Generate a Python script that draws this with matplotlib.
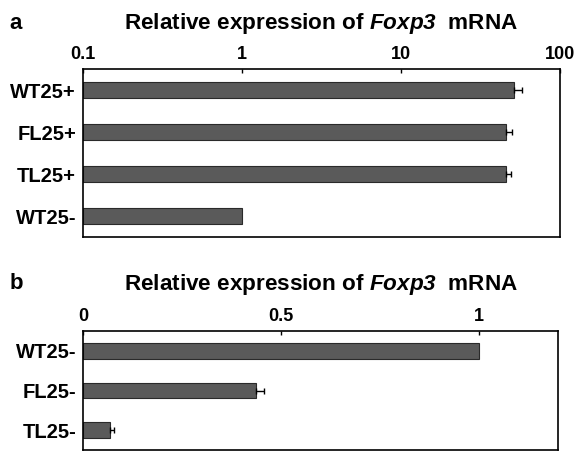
import matplotlib
matplotlib.use("Agg")
import matplotlib.pyplot as plt
from matplotlib.ticker import FixedLocator, NullLocator

plt.rcParams['font.family'] = ['Liberation Sans', 'DejaVu Sans']
plt.rcParams['mathtext.fontset'] = 'custom'
plt.rcParams['mathtext.bfit'] = 'Liberation Sans:italic:bold'
plt.rcParams['mathtext.it'] = 'Liberation Sans:italic'
plt.rcParams['mathtext.bf'] = 'Liberation Sans:bold'
plt.rcParams['mathtext.rm'] = 'Liberation Sans'

# Panel a data (log scale)
cats_a = ["WT25+", "FL25+", "TL25+", "WT25-"]
vals_a = [51.4, 45.5, 45.6, 1.0]
errs_a = [6.3, 4.2, 3.6, 0.0]
ticks_a = [0.1, 1, 10, 100]
ticklabels_a = ["0.1", "1", "10", "100"]
base_a = 0.1

# Panel b data (linear scale)
cats_b = ["WT25-", "FL25-", "TL25-"]
vals_b = [1.0, 0.437, 0.068]
errs_b = [0.0, 0.02, 0.01]
ticks_b = [0, 0.5, 1]
ticklabels_b = ["0", "0.5", "1"]

title = "Relative expression of $\\mathbfit{Foxp3}$  mRNA"

fig = plt.figure(figsize=(5.74, 4.51), dpi=100)
bar_color = "#5a5a5a"
edge_color = "#2a2a2a"

def style(ax):
    ax.xaxis.tick_top()
    ax.tick_params(axis='x', direction='in', length=3, width=1, pad=4,
                   labelsize=13)
    ax.tick_params(axis='y', length=0, pad=5, labelsize=14.5)
    for lab in ax.get_xticklabels() + ax.get_yticklabels():
        lab.set_fontweight('bold')
    for s in ax.spines.values():
        s.set_linewidth(1.2)

def add_err(ax, vals, ys, errs):
    for v, y, e in zip(vals, ys, errs):
        if e > 0:
            ax.errorbar([v], [y], xerr=[[0], [e]], fmt='none',
                        ecolor='black', elinewidth=1, capsize=2)

# Panel a
axa = fig.add_axes([0.1446, 0.4745, 0.831, 0.3725])
ya = list(range(len(cats_a)))
axa.barh(ya, [v - base_a for v in vals_a], height=0.4, left=base_a,
         color=bar_color, edgecolor=edge_color, linewidth=0.8)
add_err(axa, vals_a, ya, errs_a)
axa.set_xscale('log')
axa.set_xlim(0.1, 100)
axa.set_ylim(len(cats_a) - 0.5, -0.5)
axa.xaxis.set_major_locator(FixedLocator(ticks_a))
axa.xaxis.set_minor_locator(NullLocator())
axa.set_xticklabels(ticklabels_a)
axa.set_yticks(ya)
axa.set_yticklabels(cats_a)
style(axa)

# Panel b
axb = fig.add_axes([0.1446, 0.0022, 0.8275, 0.2638])
yb = list(range(len(cats_b)))
axb.barh(yb, vals_b, height=0.4, color=bar_color, edgecolor=edge_color,
         linewidth=0.8)
add_err(axb, vals_b, yb, errs_b)
axb.set_xlim(0, 1.2)
axb.set_ylim(len(cats_b) - 0.5, -0.5)
axb.set_xticks(ticks_b)
axb.set_xticklabels(ticklabels_b)
axb.set_yticks(yb)
axb.set_yticklabels(cats_b)
style(axb)

fig.text(0.017, 0.949, "a", fontsize=16, fontweight='bold', va='center')
fig.text(0.560, 0.949, title, fontsize=16.2, fontweight='bold', ha='center', va='center')
fig.text(0.017, 0.371, "b", fontsize=16, fontweight='bold', va='center')
fig.text(0.560, 0.370, title, fontsize=16.2, fontweight='bold', ha='center', va='center')

fig.savefig("out.png", dpi=100, facecolor='white')
